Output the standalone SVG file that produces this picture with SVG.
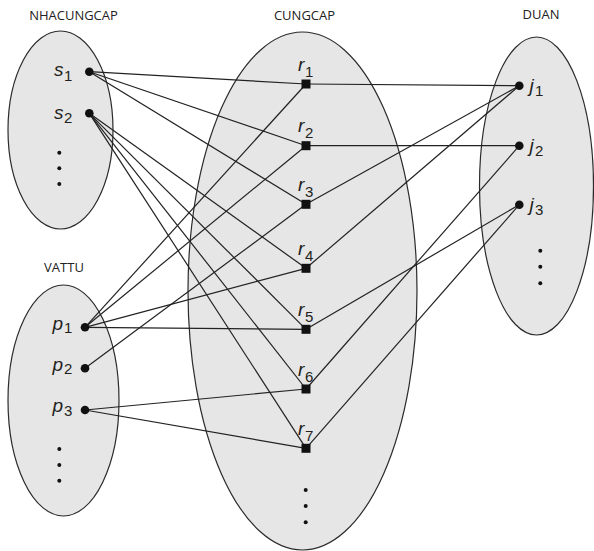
<svg xmlns="http://www.w3.org/2000/svg" width="594" height="551" viewBox="0 0 594 551">
<style>
.set{fill:#e6e6e6;stroke:#2b2b2b;stroke-width:1.2}
.title{font-family:"Open Sans","Liberation Sans",sans-serif;font-size:13px;fill:#222;text-anchor:middle}
.lbl{font-family:"Liberation Sans",Arial,sans-serif;font-size:19px;font-style:italic;fill:#231f20}
.sub{font-family:"Liberation Sans",Arial,sans-serif;font-size:15px;font-style:normal;fill:#231f20}
.conn line{stroke:#222;stroke-width:1.2}
.dot{fill:#111}
.sq{fill:#111}
.ell{fill:#111}
</style>
<rect width="594" height="551" fill="#fff"/>
<g id="sets">
  <g id="set-nhacungcap">
    <ellipse class="set" cx="60.5" cy="130" rx="52.5" ry="99"/>
    <text class="title" x="73.5" y="20">NHACUNGCAP</text>
  </g>
  <g id="set-vattu">
    <ellipse class="set" cx="63.5" cy="400.5" rx="55.5" ry="115.5"/>
    <text class="title" x="64" y="272">VATTU</text>
  </g>
  <g id="set-cungcap">
    <ellipse class="set" cx="302.5" cy="291" rx="114.5" ry="259"/>
    <text class="title" x="304.5" y="20">CUNGCAP</text>
  </g>
  <g id="set-duan">
    <ellipse class="set" cx="536.5" cy="186" rx="57" ry="149"/>
    <text class="title" x="541" y="19">DUAN</text>
  </g>
</g>
<g id="connectors" class="conn">
  <line x1="89.3" y1="71.7" x2="306" y2="84"/>
  <line x1="89.3" y1="71.7" x2="306" y2="145.7"/>
  <line x1="89.3" y1="71.7" x2="306" y2="204.3"/>
  <line x1="89.3" y1="113.3" x2="306" y2="268.3"/>
  <line x1="89.3" y1="113.3" x2="306" y2="329.3"/>
  <line x1="89.3" y1="113.3" x2="306" y2="389"/>
  <line x1="89.3" y1="113.3" x2="306" y2="448.3"/>
  <line x1="85" y1="327.3" x2="306" y2="84"/>
  <line x1="85" y1="327.3" x2="306" y2="145.7"/>
  <line x1="85" y1="327.3" x2="306" y2="268.3"/>
  <line x1="85" y1="327.3" x2="306" y2="329.3"/>
  <line x1="85" y1="368.3" x2="306" y2="204.3"/>
  <line x1="85" y1="410" x2="306" y2="389"/>
  <line x1="85" y1="410" x2="306" y2="448.3"/>
  <line x1="306" y1="84" x2="519.3" y2="85.7"/>
  <line x1="306" y1="145.7" x2="519.3" y2="145.7"/>
  <line x1="306" y1="204.3" x2="519.3" y2="85.7"/>
  <line x1="306" y1="268.3" x2="519.3" y2="85.7"/>
  <line x1="306" y1="329.3" x2="519.3" y2="204.7"/>
  <line x1="306" y1="389" x2="519.3" y2="145.7"/>
  <line x1="306" y1="448.3" x2="519.3" y2="204.7"/>
</g>
<g id="s1"><circle class="dot" cx="89.3" cy="71.7" r="4.3"/><text class="lbl" x="54" y="75.7">s</text><text class="sub" x="64" y="80.5">1</text></g>
<g id="s2"><circle class="dot" cx="89.3" cy="113.3" r="4.3"/><text class="lbl" x="54" y="118.5">s</text><text class="sub" x="64" y="123">2</text></g>
<g id="s-more"><circle class="ell" cx="59.3" cy="152.7" r="2"/><circle class="ell" cx="59.3" cy="168.3" r="2"/><circle class="ell" cx="59.3" cy="184" r="2"/></g>
<g id="p1"><circle class="dot" cx="85" cy="327.3" r="4.3"/><text class="lbl" x="52.5" y="329.5">p</text><text class="sub" x="64" y="333">1</text></g>
<g id="p2"><circle class="dot" cx="85" cy="368.3" r="4.3"/><text class="lbl" x="52.5" y="370.5">p</text><text class="sub" x="64" y="374">2</text></g>
<g id="p3"><circle class="dot" cx="85" cy="410" r="4.3"/><text class="lbl" x="52.5" y="412">p</text><text class="sub" x="64" y="415.5">3</text></g>
<g id="p-more"><circle class="ell" cx="59.3" cy="449" r="2"/><circle class="ell" cx="59.3" cy="465" r="2"/><circle class="ell" cx="59.3" cy="480.7" r="2"/></g>
<g id="r1"><rect class="sq" x="301.5" y="79.5" width="9" height="9"/><text class="lbl" x="298" y="70.5">r</text><text class="sub" x="305" y="76.5">1</text></g>
<g id="r2"><rect class="sq" x="301.5" y="141.2" width="9" height="9"/><text class="lbl" x="298" y="132.2">r</text><text class="sub" x="305" y="138.2">2</text></g>
<g id="r3"><rect class="sq" x="301.5" y="199.8" width="9" height="9"/><text class="lbl" x="298" y="190.8">r</text><text class="sub" x="305" y="196.8">3</text></g>
<g id="r4"><rect class="sq" x="301.5" y="263.8" width="9" height="9"/><text class="lbl" x="298" y="254.8">r</text><text class="sub" x="305" y="260.8">4</text></g>
<g id="r5"><rect class="sq" x="301.5" y="324.8" width="9" height="9"/><text class="lbl" x="298" y="315.8">r</text><text class="sub" x="305" y="321.8">5</text></g>
<g id="r6"><rect class="sq" x="301.5" y="384.5" width="9" height="9"/><text class="lbl" x="298" y="375.5">r</text><text class="sub" x="305" y="381.5">6</text></g>
<g id="r7"><rect class="sq" x="301.5" y="443.8" width="9" height="9"/><text class="lbl" x="298" y="434.8">r</text><text class="sub" x="305" y="440.8">7</text></g>
<g id="r-more"><circle class="ell" cx="305.7" cy="490" r="2"/><circle class="ell" cx="305.7" cy="506" r="2"/><circle class="ell" cx="305.7" cy="522.3" r="2"/></g>
<g id="j1"><circle class="dot" cx="519.3" cy="85.7" r="4.3"/><text class="lbl" x="529.5" y="92">j</text><text class="sub" x="535" y="95.5">1</text></g>
<g id="j2"><circle class="dot" cx="519.3" cy="145.7" r="4.3"/><text class="lbl" x="529.5" y="152">j</text><text class="sub" x="535" y="155.5">2</text></g>
<g id="j3"><circle class="dot" cx="519.3" cy="204.7" r="4.3"/><text class="lbl" x="529.5" y="211">j</text><text class="sub" x="535" y="214.5">3</text></g>
<g id="j-more"><circle class="ell" cx="540.3" cy="250.7" r="2"/><circle class="ell" cx="540.3" cy="266.7" r="2"/><circle class="ell" cx="540.3" cy="283.3" r="2"/></g>
</svg>
